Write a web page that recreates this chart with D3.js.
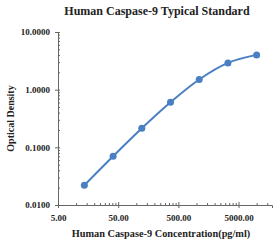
<!DOCTYPE html>
<html>
<head>
<meta charset="utf-8">
<script src="https://cdn.jsdelivr.net/npm/d3@7"></script>
<style>
  body { margin: 0; background: #fff; }
  #container { width: 274px; height: 243px; }
  text { font-family: "Liberation Serif", "Times New Roman", serif; font-weight: bold; fill: #222; }
</style>
</head>
<body>
<div id="container"></div>
<script>
// standard curve data
const concentrations = [13.7, 41.2, 123.5, 370.4, 1111, 3333, 10000];
const odValues = [0.022, 0.070, 0.214, 0.605, 1.50, 2.91, 4.01];
const xTicks = [5, 50, 500, 5000];
const yTicks = [0.01, 0.1, 1, 10];
const xDomain = [5, 18000];
const yDomain = [0.01, 10];

const titleText = "Human Caspase-9 Typical Standard";
const xTitle = "Human Caspase-9 Concentration(pg/ml)";
const yTitle = "Optical Density";

function draw() {
    const W = 274, H = 243;
    const margin = { top: 32, right: 2, bottom: 38, left: 58 };
    const width = W - margin.left - margin.right;
    const height = H - margin.top - margin.bottom;

    const svg = d3.select("#container").append("svg")
        .attr("width", W).attr("height", H);

    svg.append("text").attr("x", 157).attr("y", 15)
        .attr("text-anchor", "middle").attr("font-size", 12).text(titleText);

    const g = svg.append("g").attr("transform", `translate(${margin.left},${margin.top})`);

    const x = d3.scaleLog().domain(xDomain).range([0, width]);
    const y = d3.scaleLog().domain(yDomain).range([height, 0]);

    const axisColor = "#666";

    // minor ticks
    const xMinor = [];
    for (let d = 5; d <= xDomain[1]; d *= 10)
        for (let k = 2; k < 10; k++) if (d * k <= xDomain[1]) xMinor.push(d * k);
    const yMinor = [];
    for (let d = 0.01; d < 10; d *= 10)
        for (let k = 2; k < 10; k++) yMinor.push(d * k);

    g.append("g").attr("transform", `translate(0,${height})`)
        .call(d3.axisBottom(x).tickValues(xMinor).tickSize(-2).tickFormat(""))
        .call(a => a.select(".domain").remove())
        .selectAll("line").attr("stroke", axisColor);
    g.append("g")
        .call(d3.axisLeft(y).tickValues(yMinor).tickSize(-2).tickFormat(""))
        .call(a => a.select(".domain").remove())
        .selectAll("line").attr("stroke", axisColor);

    const xAxis = g.append("g").attr("transform", `translate(0,${height})`)
        .call(d3.axisBottom(x).tickValues(xTicks).tickSize(3).tickPadding(7)
            .tickFormat(d3.format(".2f")));
    xAxis.select(".domain").attr("stroke", axisColor);
    xAxis.selectAll("line").attr("stroke", axisColor).attr("y1", -3);
    xAxis.selectAll("text").attr("font-size", 9).attr("font-family", "Liberation Serif").attr("font-weight", "bold");

    const yAxis = g.append("g")
        .call(d3.axisLeft(y).tickValues(yTicks).tickSize(3).tickPadding(5)
            .tickFormat(d3.format(".4f")));
    yAxis.select(".domain").attr("stroke", axisColor);
    yAxis.selectAll("line").attr("stroke", axisColor).attr("x1", 2);
    yAxis.selectAll("text").attr("font-size", 9).attr("font-family", "Liberation Serif").attr("font-weight", "bold");

    // curve
    const pts = concentrations.map((c, i) => [x(c), y(odValues[i])]);
    g.append("path").datum(pts)
        .attr("d", d3.line().curve(d3.curveMonotoneX))
        .attr("fill", "none").attr("stroke", "#4a7fc1").attr("stroke-width", 2);
    g.selectAll("circle").data(pts).enter().append("circle")
        .attr("cx", d => d[0]).attr("cy", d => d[1])
        .attr("r", 3.5).attr("fill", "#4a7fc1");

    svg.append("text").attr("x", 161).attr("y", 237)
        .attr("text-anchor", "middle").attr("font-size", 10.3).text(xTitle);
    svg.append("text").attr("transform", `translate(14,${margin.top + height / 2}) rotate(-90)`)
        .attr("text-anchor", "middle").attr("font-size", 10).text(yTitle);
}

draw();
</script>
</body>
</html>
